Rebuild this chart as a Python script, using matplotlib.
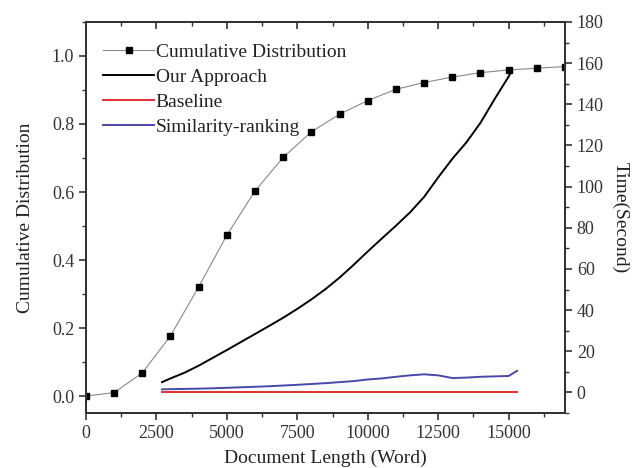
import matplotlib
matplotlib.use('Agg')
import matplotlib.pyplot as plt
from matplotlib.ticker import MultipleLocator, FormatStrFormatter

plt.rcParams['font.family'] = ['Liberation Serif', 'DejaVu Serif']
plt.rcParams['font.size'] = 13

# cumulative distribution of document length (left axis)
cum_len = [0, 1000, 2000, 3000, 4000, 5000, 6000, 7000, 8000, 9000,
           10000, 11000, 12000, 13000, 14000, 15000, 16000, 17000]
cum_dist = [0.0, 0.01, 0.068, 0.177, 0.321, 0.473, 0.603, 0.702, 0.777, 0.829,
            0.869, 0.902, 0.922, 0.938, 0.951, 0.959, 0.964, 0.969]

# running time in seconds (right axis)
ours_len = [2700, 3000, 3500, 4000, 4500, 5000, 5500, 6000, 6500, 7000, 7500,
            8000, 8500, 9000, 9500, 10000, 10500, 11000, 11500, 12000, 12500,
            13000, 13500, 14000, 14500, 15000, 15100]
ours_time = [5, 6.8, 9.6, 13, 16.8, 20.6, 24.5, 28.4, 32.3, 36.3, 40.6,
             45.2, 50.2, 55.8, 62, 68.5, 74.8, 81, 87.5, 95, 104.5,
             113.5, 121.5, 131, 142.5, 153.5, 156]

base_len = [2700, 15300]
base_time = [0.2, 0.2]

sim_len = [2700, 3500, 4500, 5500, 6500, 7500, 8500, 9000, 9500, 10000, 10500,
           11000, 11500, 12000, 12500, 13000, 13500, 14000, 14500, 15000, 15300]
sim_time = [1.5, 1.7, 2.0, 2.5, 3.0, 3.7, 4.5, 5.0, 5.5, 6.3, 6.8,
            7.6, 8.3, 8.8, 8.3, 7.0, 7.2, 7.6, 7.8, 8.0, 10.5]

fig = plt.figure(figsize=(6.32, 4.68), dpi=100)
ax = fig.add_axes([0.136, 0.1175, 0.758, 0.8355])
ax2 = ax.twinx()

edge = '#333333'
txt = '#222222'
h0, = ax.plot(cum_len, cum_dist, color='#8a8a8a', linewidth=0.8,
              marker='s', markersize=5, markerfacecolor='black',
              markeredgecolor='black', label='Cumulative Distribution', zorder=3)
h1, = ax2.plot(ours_len, ours_time, color='black', linewidth=1.4, label='Our Approach')
h2, = ax2.plot(base_len, base_time, color='#e03030', linewidth=1.4, label='Baseline')
h3, = ax2.plot(sim_len, sim_time, color='#4848a8', linewidth=1.4, label='Similarity-ranking')

ax.set_xlim(0, 17000)
ax.set_ylim(-0.05, 1.1)
ax2.set_ylim(-10, 180)

ax.xaxis.set_major_locator(MultipleLocator(2500))
ax.xaxis.set_minor_locator(MultipleLocator(1250))
ax.yaxis.set_major_locator(MultipleLocator(0.2))
ax.yaxis.set_minor_locator(MultipleLocator(0.1))
ax.yaxis.set_major_formatter(FormatStrFormatter('%.1f'))
ax2.yaxis.set_major_locator(MultipleLocator(20))
ax2.yaxis.set_minor_locator(MultipleLocator(10))

# mirrored top axis with inward ticks, no labels
top = ax.twiny()
top.set_xlim(ax.get_xlim())
top.xaxis.set_major_locator(MultipleLocator(2500))
top.xaxis.set_minor_locator(MultipleLocator(1250))
top.tick_params(axis='x', which='both', direction='in', labeltop=False, colors=edge)

ax.tick_params(axis='x', which='both', direction='out', top=False, colors=edge)
ax.tick_params(axis='y', which='both', direction='out', right=False, colors=edge)
ax2.tick_params(axis='y', which='both', direction='out', colors=edge)
for a in (ax, ax2, top):
  a.tick_params(which='major', length=5, width=1.2)
  a.tick_params(which='minor', length=3, width=1)
  for s in a.spines.values():
    s.set_linewidth(1.4)
    s.set_color(edge)

ax.set_xlabel('Document Length (Word)', color=txt, fontsize=14, labelpad=6)
ax.set_ylabel('Cumulative Distribution', color=txt, fontsize=14, labelpad=13)
ax2.set_ylabel('Time(Second)', color=txt, fontsize=14, rotation=270, labelpad=18)

leg = ax.legend(handles=[h0, h1, h2, h3], loc='upper left', fontsize=14,
                bbox_to_anchor=(0.02, 0.965), frameon=False, borderaxespad=0,
                handlelength=2.6, handletextpad=0.1, labelspacing=0.38)
for t in leg.get_texts():
  t.set_color(txt)

fig.savefig('out.png', dpi=100)
